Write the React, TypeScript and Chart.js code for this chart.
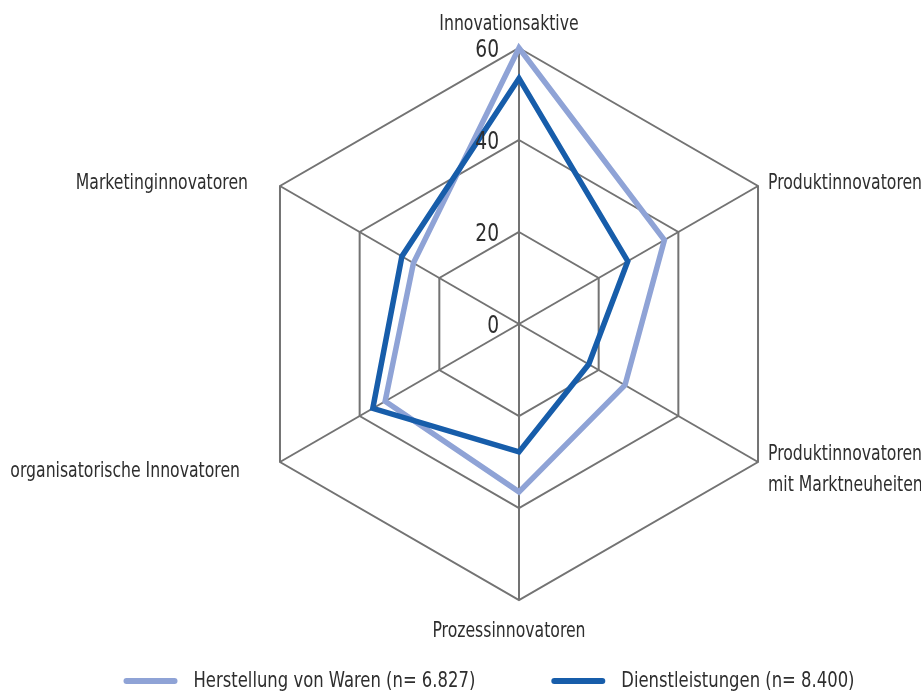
import React, { useEffect, useRef } from "react";
import { Chart, registerables } from "chart.js";

Chart.register(...registerables);

// ---------- data ----------
const categories: string[][] = [
  ["Innovationsaktive"],
  ["Produktinnovatoren"],
  ["Produktinnovatoren", "mit Marktneuheiten"],
  ["Prozessinnovatoren"],
  ["organisatorische Innovatoren"],
  ["Marketinginnovatoren"],
];
const seriesNames = ["Herstellung von Waren (n= 6.827)", "Dienstleistungen (n= 8.400)"];
const herstellung = [60, 36.5, 26.6, 36.5, 33.6, 26.5];
const dienstleistungen = [53.4, 27.3, 17.5, 27.8, 36.7, 29.4];
const tickValues = [0, 20, 40, 60];

// ---------- styles ----------
const FONT = '"Liberation Sans Narrow", "DejaVu Sans Condensed", "Noto Sans", sans-serif';
const SX = 0.83; // horizontal condensing of text
const LIGHT = "#8fa3d6";
const DARK = "#175daa";
const GRID = "#737373";
const TEXT = "#2e2e2e";

const labelPlacement = [
  { dx: -10, dy: -18, align: "center" },
  { dx: 10, dy: 3, align: "left" },
  { dx: 10, dy: -2, align: "left" },
  { dx: -10, dy: 37, align: "center" },
  { dx: -40, dy: 15, align: "right" },
  { dx: -32, dy: 3, align: "right" },
];

function drawText(ctx: CanvasRenderingContext2D, text: string, x: number, y: number, align: CanvasTextAlign) {
  ctx.save();
  ctx.translate(x, y);
  ctx.scale(SX, 1);
  ctx.textAlign = align;
  ctx.fillText(text, 0, 0);
  ctx.restore();
}

const overlay = {
  id: "overlay",
  afterDraw(chart: any) {
    const s = chart.scales.r;
    const ctx = chart.ctx as CanvasRenderingContext2D;
    ctx.save();
    ctx.fillStyle = TEXT;
    // point labels
    ctx.font = `21px ${FONT}`;
    ctx.textBaseline = "alphabetic";
    (chart.data.labels as string[][]).forEach((lines, i) => {
      const p = s.getPointPosition(i, s.drawingArea);
      const pl = labelPlacement[i];
      lines.forEach((t, j) => drawText(ctx, t, p.x + pl.dx, p.y + pl.dy + j * 31, pl.align as CanvasTextAlign));
    });
    // tick labels
    ctx.font = `25px ${FONT}`;
    ctx.textBaseline = "middle";
    s.ticks.forEach((t: any) => {
      const d = s.getDistanceFromCenterForValue(t.value);
      drawText(ctx, String(t.value), s.xCenter - 20, s.yCenter - d + 2, "right");
    });
    // legend
    ctx.font = `22px ${FONT}`;
    ctx.textBaseline = "middle";
    const items = chart.data.datasets.map((ds: any) => ({ label: ds.label, color: ds.borderColor }));
    const lineLen = 54, gap = 16, itemGap = 76;
    const widths = items.map((it: any) => ctx.measureText(it.label).width * SX);
    const total = widths.reduce((a: number, w: number) => a + lineLen + gap + w, 0) + itemGap * (items.length - 1);
    let x = s.xCenter - 30 - total / 2;
    const y = 681;
    items.forEach((it: any, i: number) => {
      ctx.strokeStyle = it.color;
      ctx.lineWidth = 6;
      ctx.lineCap = "round";
      ctx.beginPath();
      ctx.moveTo(x + 3, y);
      ctx.lineTo(x + lineLen - 3, y);
      ctx.stroke();
      ctx.fillStyle = TEXT;
      drawText(ctx, it.label, x + lineLen + gap, y, "left");
      x += lineLen + gap + widths[i] + itemGap;
    });
    ctx.restore();
  },
};

export default function App() {
  const ref = useRef<HTMLCanvasElement | null>(null);
  useEffect(() => {
    if (!ref.current) return;
    const chart = new Chart(ref.current, {
      type: "radar",
      data: {
        labels: categories,
        datasets: [
          {
            label: seriesNames[0],
            data: herstellung,
            borderColor: LIGHT,
            backgroundColor: "transparent",
            borderWidth: 5.5,
            borderJoinStyle: "miter",
            pointRadius: 0,
            fill: false,
            order: 2,
          },
          {
            label: seriesNames[1],
            data: dienstleistungen,
            borderColor: DARK,
            backgroundColor: "transparent",
            borderWidth: 5.5,
            borderJoinStyle: "miter",
            pointRadius: 0,
            fill: false,
            order: 1,
          },
        ],
      },
      options: {
        animation: false,
        responsive: true,
        maintainAspectRatio: false,
        layout: { padding: { left: 243, right: 126, top: 48, bottom: 91 } },
        plugins: { legend: { display: false }, tooltip: { enabled: false } },
        scales: {
          r: {
            min: tickValues[0],
            max: tickValues[tickValues.length - 1],
            ticks: { display: false, stepSize: tickValues[1] - tickValues[0] },
            pointLabels: { display: false },
            grid: { color: GRID, lineWidth: 2, circular: false },
            angleLines: { color: GRID, lineWidth: 2 },
          },
        },
      },
      plugins: [overlay],
    });
    return () => chart.destroy();
  }, []);
  return (
    <div style={{ position: "fixed", left: 0, top: 0, width: 921, height: 691, background: "#fff" }}>
      <canvas ref={ref} />
    </div>
  );
}
